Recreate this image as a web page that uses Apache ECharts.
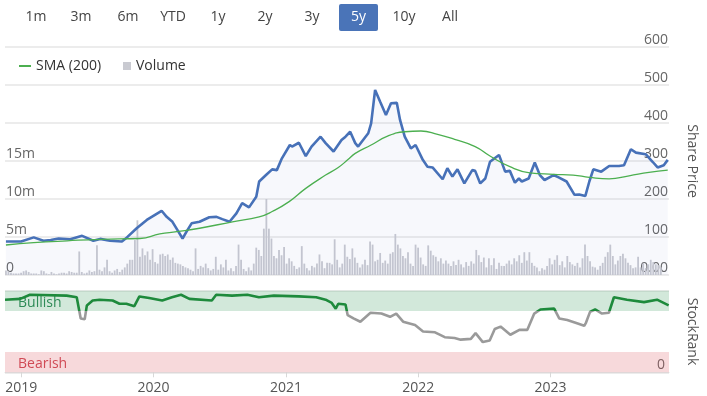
<!DOCTYPE html>
<html>
<head>
<meta charset="utf-8">
<script src="https://cdn.jsdelivr.net/npm/echarts@6/dist/echarts.min.js"></script>
<style>html,body{margin:0;padding:0;background:#fff}#c{width:707px;height:396px}</style>
</head>
<body>
<div id="c"></div>
<script>
// ---------- DATA ----------
const rangeButtons = ['1m','3m','6m','YTD','1y','2y','3y','5y','10y','All'];
const activeButton = '5y';
const xStart = '2018-11-17';
const xEnd = '2023-11-24';
const yearTicks = ['2019','2020','2021','2022','2023'];

const priceDates = ['2018-11-17','2018-12-29','2019-02-02','2019-03-01','2019-03-21','2019-04-12','2019-05-14','2019-06-16','2019-07-17','2019-08-05','2019-09-01','2019-10-04','2019-10-18','2019-11-14','2019-12-12','2019-12-29','2020-01-22','2020-02-05','2020-02-21','2020-03-06','2020-03-20','2020-03-31','2020-04-14','2020-05-06','2020-06-02','2020-06-22','2020-07-08','2020-07-28','2020-08-16','2020-09-01','2020-09-20','2020-10-10','2020-10-18','2020-11-06','2020-11-23','2020-12-06','2020-12-20','2021-01-11','2021-01-17','2021-02-05','2021-02-24','2021-03-12','2021-04-06','2021-04-20','2021-05-12','2021-06-03','2021-06-14','2021-06-27','2021-07-11','2021-07-19','2021-08-16','2021-08-24','2021-09-04','2021-09-18','2021-10-04','2021-10-18','2021-11-03','2021-11-12','2021-11-25','2021-12-12','2021-12-25','2022-01-14','2022-01-27','2022-02-10','2022-03-10','2022-03-23','2022-04-06','2022-04-20','2022-05-09','2022-05-31','2022-06-08','2022-06-22','2022-07-06','2022-07-19','2022-08-13','2022-08-30','2022-09-12','2022-09-26','2022-10-07','2022-10-15','2022-11-03','2022-11-20','2022-12-04','2022-12-17','2023-01-11','2023-01-25','2023-02-16','2023-03-10','2023-03-23','2023-04-09','2023-04-20','2023-05-01','2023-05-23','2023-06-14','2023-07-11','2023-07-25','2023-08-13','2023-08-27','2023-09-23','2023-10-12','2023-10-26','2023-11-12','2023-11-23'];
const priceValues = [88,88,99,90,92,96,94,103,90,95,90,88,99,123,145,155,169,153,140,118,96,114,136,140,152,153,147,140,162,189,178,206,246,263,278,276,307,342,338,348,313,338,364,347,325,355,364,377,347,338,373,399,487,456,421,452,453,408,364,333,342,303,285,283,252,281,259,278,241,276,274,241,254,298,316,272,274,243,254,246,254,296,263,250,263,257,246,211,212,208,246,278,272,287,287,289,331,322,318,298,283,289,303];

const smaDates = ['2018-11-17','2019-02-02','2019-05-06','2019-08-05','2019-11-23','2020-01-17','2020-03-04','2020-05-06','2020-08-05','2020-10-18','2020-11-23','2021-01-09','2021-02-24','2021-04-20','2021-05-25','2021-06-20','2021-07-11','2021-08-24','2021-10-10','2021-11-25','2022-01-09','2022-02-24','2022-04-12','2022-06-08','2022-07-19','2022-09-12','2022-11-06','2023-01-11','2023-03-06','2023-04-20','2023-06-14','2023-08-08','2023-10-02','2023-11-23'];
const smaValues = [79,85,90,94,96,108,114,123,140,153,167,193,228,263,283,303,320,342,366,377,379,370,357,338,313,285,269,265,263,257,253,261,270,276];

// weekly volume (millions), first week starts at volumeStart
const volumeStart = '2018-11-17';
const volumeM = [0.6,0.5,0.3,0.2,0.2,0.2,0.3,0.5,0.6,0.4,0.2,0.2,0.2,0.1,0.6,0.5,0.2,0.1,0.4,0.2,0.1,0.2,0.3,0.3,0.2,0.5,0.4,0.3,
0.3,3.1,0.4,0.2,0.3,0.6,0.4,0.5,3.9,0.7,0.5,1.0,2.0,
0.5,0.3,0.6,0.8,0.4,0.7,1.0,1.5,2.0,
2.0,4.6,7.2,2.4,3.5,2.6,3.1,2.0,3.4,1.7,1.5,2.7,2.8,2.5,2.7,2.0,2.3,1.6,1.5,1.4,1.2,1.0,0.9,0.7,0.5,3.5,0.8,1.2,1.0,1.5,0.9,0.6,0.8,2.4,0.7,1.4,1.0,
2.0,0.6,0.9,0.5,1.2,4.0,2.0,0.8,0.5,1.0,0.6,1.5,3.6,3.3,2.5,6.1,10.0,6.1,4.8,2.5,2.2,3.3,2.6,3.7,1.5,2.2,1.8,1.2,0.8,1.0,3.8,1.5,0.9,0.6,1.2,1.0,1.5,2.7,1.8,0.9,1.6,1.6,1.4,4.7,2.0,1.0,1.5,4.0,2.4,2.1,3.5,2.3,1.6,1.0,1.4,2.0,1.3,4.4,4.0,1.8,2.0,2.9,1.6,1.9,1.5,2.8,3.0,5.4,4.0,3.5,2.5,2.2,3.0,1.5,1.2,4.0,3.6,2.3,1.4,1.2,3.9,3.2,2.6,2.4,1.8,2.2,1.5,1.9,
1.5,1.2,1.8,1.3,2.0,1.4,1.0,1.7,1.2,1.8,1.5,3.3,2.6,1.7,2.3,1.0,2.2,1.3,2.2,0.8,1.6,1.2,1.2,1.5,1.9,1.4,2.2,1.8,2.6,1.6,3.0,1.9,3.0,1.6,1.2,1.0,0.5,0.9,0.7,1.2,2.2,1.4,2.0,2.6,1.3,1.8,1.0,2.5,1.7,1.4,1.2,1.6,1.0,2.2,4.0,2.5,1.8,1.1,1.0,0.7,1.2,1.6,2.4,3.0,4.0,2.5,1.4,1.9,2.5,2.8,2.2,1.6,1.3,0.9,1.0,2.4,1.0,1.5,0.9,1.4,2.0,1.7,1.4,1.3,1.0];

const rankDates = ['2018-11-17','2018-12-29','2019-01-25','2019-05-06','2019-06-03','2019-06-14','2019-06-25','2019-07-01','2019-07-17','2019-08-05','2019-09-10','2019-09-29','2019-10-18','2019-11-09','2019-11-23','2019-12-20','2020-01-25','2020-02-21','2020-03-17','2020-04-09','2020-06-10','2020-06-22','2020-08-05','2020-09-16','2020-10-18','2020-11-28','2021-02-05','2021-03-25','2021-04-20','2021-05-07','2021-05-18','2021-05-25','2021-06-14','2021-06-20','2021-07-06','2021-07-25','2021-08-22','2021-09-21','2021-10-15','2021-11-01','2021-11-20','2021-12-23','2022-01-14','2022-02-16','2022-03-15','2022-04-11','2022-04-28','2022-05-26','2022-06-08','2022-06-28','2022-07-17','2022-07-31','2022-08-16','2022-09-12','2022-10-07','2022-10-29','2022-11-17','2022-12-04','2023-01-11','2023-01-25','2023-02-16','2023-03-15','2023-04-04','2023-04-09','2023-04-20','2023-05-04','2023-05-23','2023-06-11','2023-06-25','2023-07-31','2023-09-16','2023-10-22','2023-11-23'];
const rankValues = [89,90,95,94,92,66,65,82,88,89,88,84,84,81,93,91,88,92,95,90,88,95,94,95,92,94,93,92,89,85,78,84,83,70,66,62,73,72,68,72,62,58,50,49,43,42,40,41,48,37,39,53,56,46,52,52,72,77,78,66,64,60,57,61,74,77,72,73,92,89,86,89,82];

const bullishMin = 75, bearishMax = 25;

// ---------- BUILD ----------
const t0 = new Date(volumeStart + 'T00:00:00').getTime();
const volumeData = volumeM.map((v, i) => [t0 + i * 7 * 86400000, v]);
const priceData = priceDates.map((d, i) => [d, priceValues[i]]);
const smaData = smaDates.map((d, i) => [d, smaValues[i]]);
const rankData = rankDates.map((d, i) => [d, rankValues[i]]);

const FONT = '"Open Sans", "Noto Sans", sans-serif';
const btnX = [36,81,128,173,218,265,312,358.5,404,450];
const graphics = [];
rangeButtons.forEach((b, i) => {
  if (b === activeButton) {
    graphics.push({type:'rect', shape:{x:btnX[i]-19.5, y:4, width:39, height:27, r:2}, style:{fill:'#4a74b8'}});
  }
  graphics.push({type:'text', x:btnX[i], y:17.5, style:{text:b, fill: b===activeButton?'#fff':'#444', font:'14px ' + FONT, align:'center', verticalAlign:'middle'}});
});

const chart = echarts.init(document.getElementById('c'), null, {renderer:'canvas'});
const axisLabelStyle = {color:'#666', fontSize:14, fontFamily:FONT};
chart.setOption({
  animation:false,
  textStyle:{fontFamily:FONT},
  graphic: graphics,
  legend: [
    {data:['SMA (200)'], left:14, top:54, icon:'rect', itemWidth:12, itemHeight:2, itemGap:8, textStyle:{fontSize:14, color:'#333'}},
    {data:['Volume'], left:118, top:54, icon:'rect', itemWidth:8, itemHeight:8, textStyle:{fontSize:14, color:'#333'}}
  ],
  grid: [
    {left:5, right:34, top:47, height:228},
    {left:5, right:34, top:290.7, height:81.6}
  ],
  xAxis: [
    {type:'time', gridIndex:0, min:xStart, max:xEnd, show:false},
    {type:'time', gridIndex:1, min:xStart, max:xEnd,
      minInterval: 365*86400000, maxInterval: 366*86400000,
      axisLine:{show:true, lineStyle:{color:'#e0e0e0'}},
      axisTick:{show:true, length:5, lineStyle:{color:'#d8d8d8'}},
      splitLine:{show:false},
      axisLabel:{...axisLabelStyle, color:'#555', margin:9, hideOverlap:false,
        formatter:(v)=>{const d=new Date(v); const y=String(d.getFullYear()); return (d.getMonth()===0 && d.getDate()===1 && yearTicks.includes(y)) ? y : '';}}
    }
  ],
  yAxis: [
    {type:'value', gridIndex:0, position:'left', min:0, max:30, interval:5,
      axisLine:{show:false}, axisTick:{show:false},
      splitLine:{show:true, lineStyle:{color:'#e6e6e6', width:1.5}},
      axisLabel:{...axisLabelStyle, inside:true, verticalAlign:'bottom', margin:1,
        formatter:(v)=> v===0 ? '0' : (v<=15 ? v+'m' : '')}},
    {type:'value', gridIndex:0, position:'right', min:0, max:600, interval:100,
      name:'Share Price', nameLocation:'middle', nameGap:16, nameRotate:-90,
      nameTextStyle:{color:'#555', fontSize:14, fontFamily:FONT},
      axisLine:{show:false}, axisTick:{show:false}, splitLine:{show:false},
      axisLabel:{...axisLabelStyle, inside:true, verticalAlign:'bottom', margin:1,
        formatter:(v)=> v===0 ? '0.00' : String(v)}},
    {type:'value', gridIndex:1, position:'right', min:0, max:100, interval:100,
      name:'StockRank', nameLocation:'middle', nameGap:16, nameRotate:-90,
      nameTextStyle:{color:'#555', fontSize:14, fontFamily:FONT},
      axisLine:{show:false}, axisTick:{show:false},
      splitLine:{show:true, lineStyle:{color:'#e6e6e6', width:1.5}},
      axisLabel:{...axisLabelStyle, inside:true, verticalAlign:'bottom', margin:4,
        formatter:(v)=> v===0 ? '0' : ''}}
  ],
  visualMap: {show:false, type:'piecewise', seriesIndex:3, dimension:1,
    pieces:[{min:bullishMin, max:100, color:'#1e8a3c'}, {min:0, max:bullishMin, color:'#9a9a9a'}]},
  series: [
    {name:'Volume', type:'bar', xAxisIndex:0, yAxisIndex:0, data:volumeData, barWidth:'72%',
      itemStyle:{color:'#c9cad1'}, z:1},
    {name:'Share Price', type:'line', xAxisIndex:0, yAxisIndex:1, data:priceData, showSymbol:false, smooth:false,
      lineStyle:{color:'#4771b8', width:2.6}, itemStyle:{color:'#4771b8'},
      areaStyle:{color:'rgba(90,120,200,0.07)', origin:'start'}, z:3},
    {name:'SMA (200)', type:'line', xAxisIndex:0, yAxisIndex:1, data:smaData, showSymbol:false, smooth:true,
      lineStyle:{color:'#4caf50', width:1.3}, itemStyle:{color:'#4caf50'}, z:4},
    {name:'StockRank', type:'line', xAxisIndex:1, yAxisIndex:2, data:rankData, showSymbol:false,
      lineStyle:{width:2.6}, z:3,
      markArea:{silent:true, data:[
        [{yAxis:bullishMin, itemStyle:{color:'rgba(30,140,70,0.2)'}, label:{show:true, position:'insideLeft', offset:[8,2], formatter:'Bullish', color:'#2e8b57', fontSize:14, fontFamily:FONT}}, {yAxis:100}],
        [{yAxis:0, itemStyle:{color:'rgba(220,80,90,0.22)'}, label:{show:true, position:'insideLeft', offset:[8,2], formatter:'Bearish', color:'#d04a55', fontSize:14, fontFamily:FONT}}, {yAxis:bearishMax}]
      ]}}
  ]
});
</script>
</body>
</html>
